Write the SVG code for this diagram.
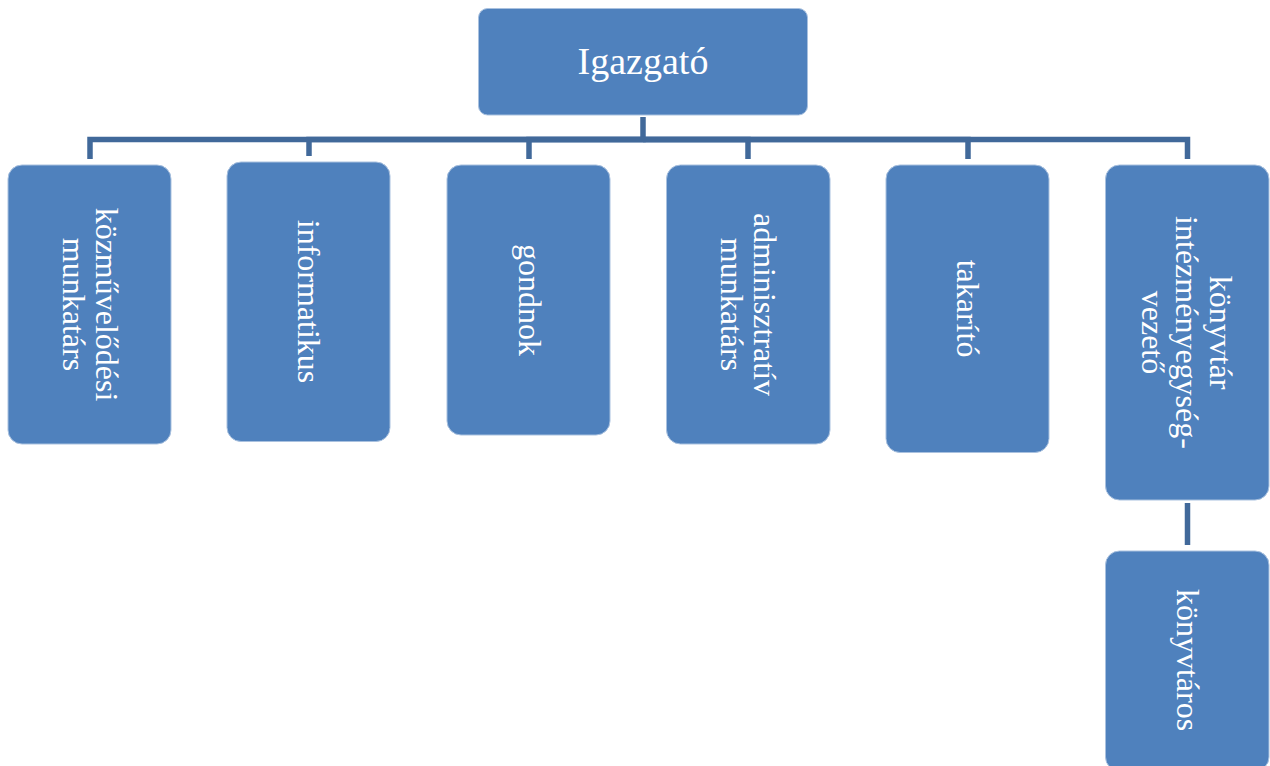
<svg xmlns="http://www.w3.org/2000/svg" width="1270" height="766" viewBox="0 0 1270 766">
<style>
.box{fill:#4F81BD;stroke:#A9C1DF;stroke-width:1}
.lbl{font-family:"Liberation Serif","Times New Roman",serif;font-size:32px;fill:#FFFFFF;text-anchor:middle}
.top{font-size:38px}
.conn{fill:none;stroke:#41699A;stroke-width:5.5;stroke-linejoin:miter}
</style>
<rect width="1270" height="766" fill="#FFFFFF"/>
<g id="connectors">
<path class="conn" d="M643 117 V139.5 H90 V159"/>
<path class="conn" d="M643 139.5 H309 V156"/>
<path class="conn" d="M643 139.5 H529 V159"/>
<path class="conn" d="M643 139.5 H748 V159"/>
<path class="conn" d="M643 139.5 H968 V159"/>
<path class="conn" d="M643 139.5 H1187.5 V159"/>
<path class="conn" d="M1187.5 503 V545"/>
</g>
<g id="igazgato">
<rect class="box" x="478.5" y="8.5" width="329" height="106.5" rx="9"/>
<text class="lbl top" x="643" y="74">Igazgató</text>
</g>
<g id="kozmuvelodesi">
<rect class="box" x="8" y="165" width="163" height="279" rx="14"/>
<text class="lbl" transform="translate(89.5 304.5) rotate(90)"><tspan x="0" y="-6">közművelődési</tspan><tspan x="0" y="27">munkatárs</tspan></text>
</g>
<g id="informatikus">
<rect class="box" x="227" y="162" width="163" height="279.5" rx="14"/>
<text class="lbl" transform="translate(308.5 301.5) rotate(90)" x="0" y="11">informatikus</text>
</g>
<g id="gondnok">
<rect class="box" x="447" y="165" width="163" height="270" rx="14"/>
<text class="lbl" transform="translate(528.5 300) rotate(90)" x="0" y="10">gondnok</text>
</g>
<g id="adminisztrativ">
<rect class="box" x="666.5" y="165" width="163.5" height="279" rx="14"/>
<text class="lbl" transform="translate(748 304.5) rotate(90)"><tspan x="0" y="-5.5">adminisztratív</tspan><tspan x="0" y="27">munkatárs</tspan></text>
</g>
<g id="takarito">
<rect class="box" x="886" y="165" width="163" height="287.5" rx="14"/>
<text class="lbl" transform="translate(967.5 308.5) rotate(90)" x="0" y="10.5">takarító</text>
</g>
<g id="konyvtar-vezeto">
<rect class="box" x="1105.5" y="165" width="163.5" height="335" rx="14"/>
<text class="lbl" transform="translate(1187 332.5) rotate(90)"><tspan x="0" y="-23">könyvtár</tspan><tspan x="0" y="11">intézményegység-</tspan><tspan x="0" y="45">vezető</tspan></text>
</g>
<g id="konyvtaros">
<rect class="box" x="1105.5" y="551" width="163.5" height="220" rx="14"/>
<text class="lbl" transform="translate(1187 660) rotate(90)" x="0" y="10">könyvtáros</text>
</g>
</svg>
